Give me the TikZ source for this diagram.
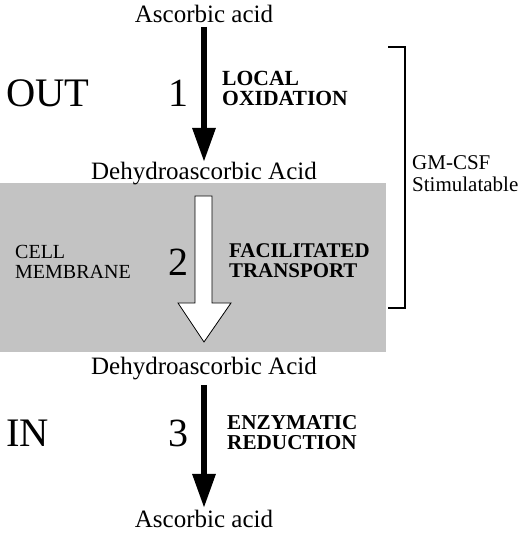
\documentclass[tikz,border=0pt]{standalone}
\usepackage{fontspec}
\setmainfont{Liberation Serif}
\usetikzlibrary{arrows.meta}
\definecolor{membrane}{RGB}{195,195,195}
\tikzset{
  chem/.style={inner sep=0pt, font=\fontsize{25}{25}\selectfont},
  side/.style={inner sep=0pt, anchor=west, font=\fontsize{40.5}{40}\selectfont},
  num/.style={inner sep=0pt, anchor=east, font=\fontsize{40}{40}\selectfont},
  steplabel/.style={inner sep=0pt, anchor=west, align=left, font=\fontsize{21.6}{20}\selectfont\bfseries},
  plainlabel/.style={inner sep=0pt, anchor=west, align=left, font=\fontsize{20}{20}\selectfont},
  blackarrow/.style={line width=6pt, -{Triangle[length=34pt,width=22pt]}},
}
\begin{document}
\begin{tikzpicture}[x=1pt,y=1pt]
\useasboundingbox (0,0) rectangle (520,535);
% membrane band
\fill[membrane] (0,183) rectangle (386,352);
% nodes
\node[chem] (a1) at (204,521) {Ascorbic acid};
\node[chem] (d1) at (204,361) {Dehydroascorbic Acid};
\node[chem] (d2) at (204,166) {Dehydroascorbic Acid};
\node[chem] (a2) at (204,16) {Ascorbic acid};
\node[side] (out) at (6,442) {OUT};
\node[side] (in) at (6,102) {IN};
\node[num] (n1) at (189,442) {1};
\node[num] (n2) at (189,273) {2};
\node[num] (n3) at (189,102) {3};
\node[steplabel] (l1) at (222,447) {LOCAL\\OXIDATION};
\node[steplabel,font=\fontsize{20.9}{20}\selectfont\bfseries] (l2) at (229,274) {FACILITATED\\TRANSPORT};
\node[steplabel,font=\fontsize{21.2}{20}\selectfont\bfseries] (l3) at (227,102) {ENZYMATIC\\REDUCTION};
\node[plainlabel] (cm) at (15,273) {CELL\\MEMBRANE};
\node[plainlabel,font=\fontsize{21}{22}\selectfont] (gm) at (412,361) {GM-CSF\\Stimulatable};
% arrows
\coordinate (s1) at (204,508);
\coordinate (t1) at (204,373);
\coordinate (s3) at (204,150);
\coordinate (t3) at (204,27);
\draw[blackarrow] (s1) -- (t1);
\draw[blackarrow] (s3) -- (t3);
% white transport arrow
\draw[fill=white, line width=0.8pt, line join=miter]
  (195,339) -- (212,339) -- (212,232) -- (231,232) -- (204,193)
  -- (178,232) -- (195,232) -- cycle;
% bracket
\draw[line width=1.2pt] (388,488) -- (405,488) -- (405,227) -- (388,227);
\end{tikzpicture}
\end{document}
